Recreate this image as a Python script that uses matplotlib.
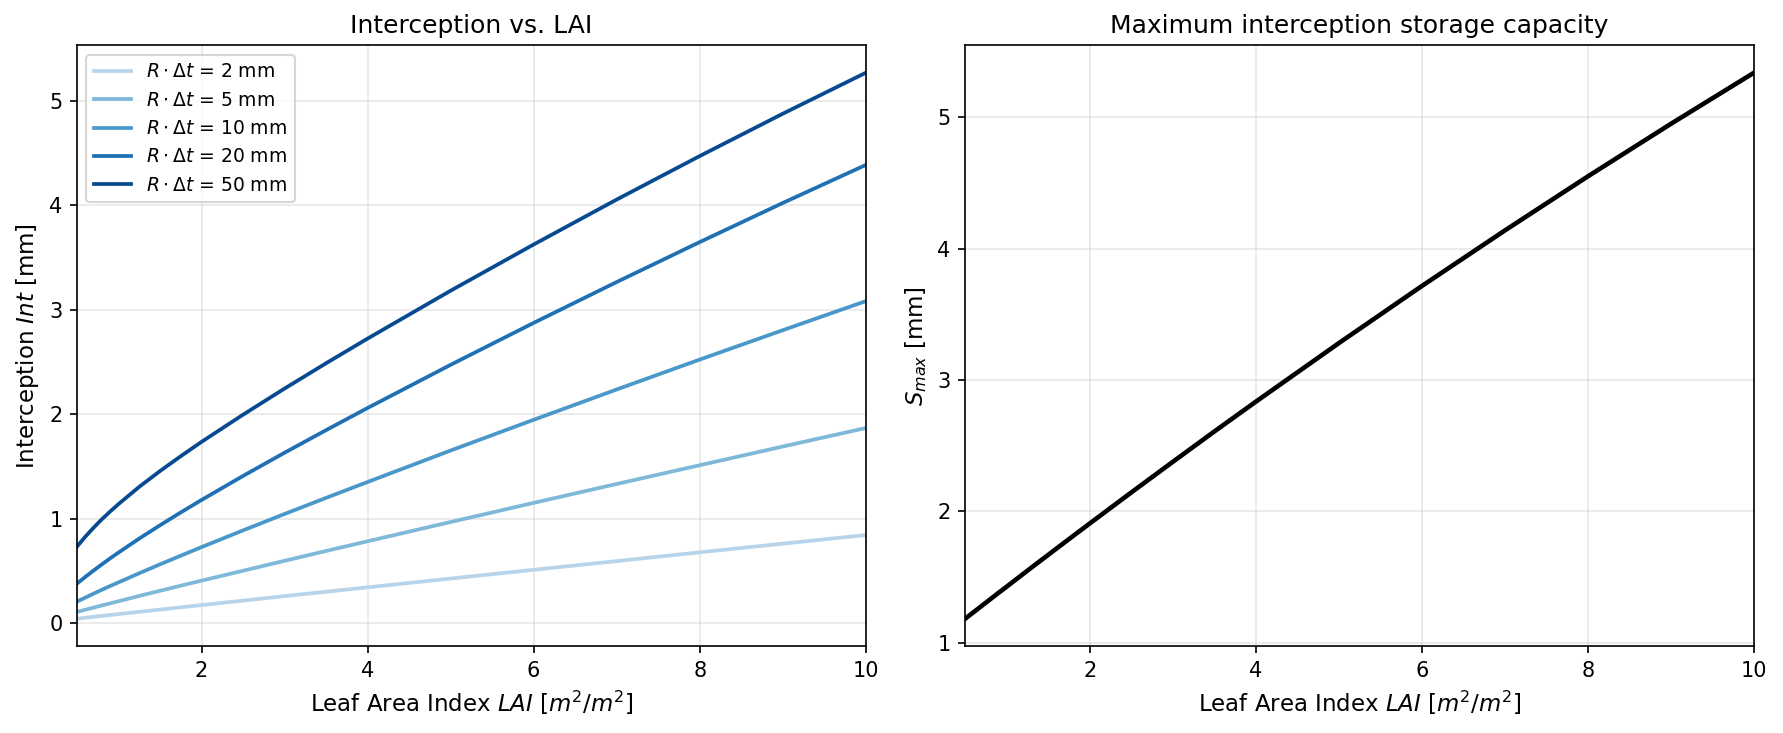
import numpy as np
import matplotlib
matplotlib.use('Agg')
import matplotlib.pyplot as plt

# --------------------------
# DATA
# --------------------------
lai = [0.5, 0.6, 0.7, 0.8, 0.9, 1.0, 1.25, 1.5, 1.75, 2.0, 2.5, 3.0, 3.5,
       4.0, 5.0, 6.0, 7.0, 8.0, 9.0, 10.0]

rain_depths = [2, 5, 10, 20, 50]   # R * dt [mm]

int_2mm = [0.045, 0.054, 0.063, 0.072, 0.080, 0.089, 0.111, 0.132, 0.154,
           0.175, 0.218, 0.261, 0.303, 0.345, 0.429, 0.513, 0.596, 0.680,
           0.763, 0.845]
int_5mm = [0.110, 0.131, 0.151, 0.172, 0.192, 0.212, 0.263, 0.312, 0.361,
           0.409, 0.504, 0.599, 0.693, 0.786, 0.970, 1.153, 1.334, 1.513,
           1.692, 1.869]
int_10mm = [0.209, 0.247, 0.285, 0.322, 0.358, 0.393, 0.480, 0.565, 0.648,
            0.730, 0.890, 1.047, 1.201, 1.353, 1.654, 1.948, 2.238, 2.524,
            2.805, 3.083]
int_20mm = [0.381, 0.445, 0.506, 0.565, 0.623, 0.678, 0.812, 0.939, 1.062,
            1.181, 1.411, 1.633, 1.849, 2.061, 2.474, 2.875, 3.266, 3.648,
            4.022, 4.386]
int_50mm = [0.735, 0.830, 0.916, 0.997, 1.071, 1.142, 1.307, 1.458, 1.600,
            1.737, 1.997, 2.247, 2.489, 2.725, 3.183, 3.625, 4.055, 4.471,
            4.876, 5.268]

s_max = [1.183, 1.232, 1.281, 1.330, 1.379, 1.427, 1.549, 1.669, 1.789,
         1.908, 2.144, 2.377, 2.608, 2.835, 3.281, 3.716, 4.139, 4.551,
         4.951, 5.340]

interception = [int_2mm, int_5mm, int_10mm, int_20mm, int_50mm]

# --------------------------
# PLOTTING
# --------------------------
fig, (ax1, ax2) = plt.subplots(1, 2, figsize=(1783 / 150, 733 / 150), dpi=150)
fig.subplots_adjust(left=0.0432, right=0.9837, bottom=0.1187, top=0.938,
                    wspace=0.126)

colors = plt.cm.Blues(np.linspace(0.3, 0.9, len(rain_depths)))

for depth, vals, col in zip(rain_depths, interception, colors):
    ax1.plot(lai, vals, color=col, lw=1.8,
             label=rf'$R \cdot \Delta t$ = {depth} mm')

ax1.set_xlim(0.5, 10)
ax1.set_xlabel(r'Leaf Area Index $LAI$ [$m^2/m^2$]', fontsize=11)
ax1.set_ylabel(r'Interception $Int$ [mm]', fontsize=11)
ax1.set_title('Interception vs. LAI', fontsize=12)
ax1.grid(True, alpha=0.3)
ax1.legend(loc='upper left', fontsize=9)

ax2.plot(lai, s_max, color='black', lw=2.2)
ax2.set_xlim(0.5, 10)
ax2.set_xlabel(r'Leaf Area Index $LAI$ [$m^2/m^2$]', fontsize=11)
ax2.set_ylabel(r'$S_{max}$ [mm]', fontsize=11)
ax2.set_title('Maximum interception storage capacity', fontsize=12)
ax2.grid(True, alpha=0.3)

fig.savefig('out.png', dpi=150)
